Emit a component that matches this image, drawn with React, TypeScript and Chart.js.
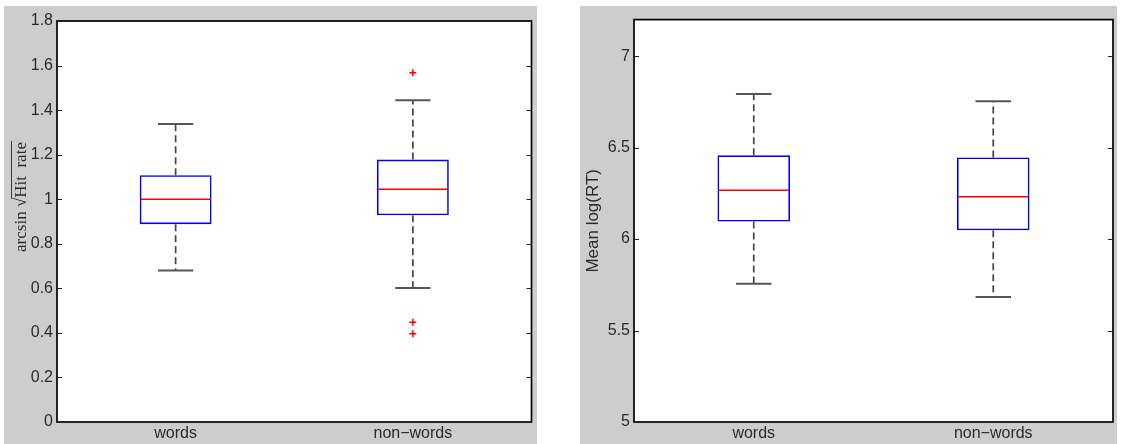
import React, { useEffect, useRef } from "react";
import { Chart, registerables } from "chart.js";
Chart.register(...registerables);

// ---------- data ----------
const categories = ["words", "non\u2212words"];

// left panel: arcsin sqrt(Hit rate)
const hitQ1 = [0.888, 0.928];
const hitMedian = [1.0, 1.045];
const hitQ3 = [1.108, 1.178];
const hitWhiskerLow = [0.68, 0.602];
const hitWhiskerHigh = [1.338, 1.444];
const hitOutlierCats = ["non\u2212words", "non\u2212words", "non\u2212words"];
const hitOutlierValues = [1.568, 0.448, 0.396];
const hitTicks = [0, 0.2, 0.4, 0.6, 0.8, 1, 1.2, 1.4, 1.6, 1.8];

// right panel: Mean log(RT)
const rtQ1 = [6.096, 6.048];
const rtMedian = [6.267, 6.232];
const rtQ3 = [6.458, 6.446];
const rtWhiskerLow = [5.756, 5.684];
const rtWhiskerHigh = [6.793, 6.754];
const rtTicks = [5, 5.5, 6, 6.5, 7];

const FONT = "'Liberation Sans', Arial, sans-serif";
const PANEL_BG = "#cdcdcd";
const TICK_COLOR = "#2a2a2a";

type BoxSpec = {
  q1: number[];
  med: number[];
  q3: number[];
  lo: number[];
  hi: number[];
  outCats: string[];
  outVals: number[];
  yMin: number;
  yMax: number;
  ticks: number[];
  width: number;
  height: number;
  padTop: number;
  yAxisWidth: number;
  yTitle?: string;
  drawSqrtLabel?: boolean;
};

const boxPlugin = {
  id: "boxExtras",
  beforeDatasetsDraw(chart: any) {
    const ctx = chart.ctx;
    const { left, right, top, bottom } = chart.chartArea;
    ctx.save();
    ctx.fillStyle = "#ffffff";
    ctx.fillRect(left, top, right - left, bottom - top);
    ctx.restore();
  },
  afterDatasetsDraw(chart: any, _args: any, opts: any) {
    const spec: BoxSpec = opts.spec;
    const ctx = chart.ctx;
    const y = chart.scales.y;
    const meta = chart.getDatasetMeta(0);
    ctx.save();
    meta.data.forEach((el: any, i: number) => {
      const x = el.x;
      const w = el.width;
      const half = w / 2;
      const cap = w * 0.245;
      // median
      ctx.strokeStyle = "#ff0000";
      ctx.lineWidth = 1.5;
      ctx.setLineDash([]);
      const ym = y.getPixelForValue(spec.med[i]);
      ctx.beginPath();
      ctx.moveTo(x - half + 1, ym);
      ctx.lineTo(x + half - 1, ym);
      ctx.stroke();
      // whiskers
      ctx.strokeStyle = "#444444";
      ctx.lineWidth = 1.7;
      ctx.setLineDash([7, 4]);
      ctx.beginPath();
      ctx.moveTo(x, y.getPixelForValue(spec.q3[i]));
      ctx.lineTo(x, y.getPixelForValue(spec.hi[i]));
      ctx.moveTo(x, y.getPixelForValue(spec.q1[i]));
      ctx.lineTo(x, y.getPixelForValue(spec.lo[i]));
      ctx.stroke();
      ctx.setLineDash([]);
      ctx.lineWidth = 2;
      ctx.strokeStyle = "#555555";
      const yh = y.getPixelForValue(spec.hi[i]);
      const yl = y.getPixelForValue(spec.lo[i]);
      ctx.beginPath();
      ctx.moveTo(x - cap, yh);
      ctx.lineTo(x + cap, yh);
      ctx.moveTo(x - cap, yl);
      ctx.lineTo(x + cap, yl);
      ctx.stroke();
    });
    ctx.restore();
  },
  afterDraw(chart: any, _args: any, opts: any) {
    const spec: BoxSpec = opts.spec;
    const ctx = chart.ctx;
    const { left, right, top, bottom } = chart.chartArea;
    const y = chart.scales.y;
    ctx.save();
    // frame
    ctx.strokeStyle = "#000000";
    ctx.lineWidth = 1.7;
    ctx.strokeRect(left, top, right - left, bottom - top);
    // inner ticks on both sides
    ctx.lineWidth = 1;
    ctx.strokeStyle = "#222222";
    y.ticks.forEach((t: any) => {
      const py = Math.round(y.getPixelForValue(t.value)) + 0.5;
      ctx.beginPath();
      ctx.moveTo(left, py);
      ctx.lineTo(left + 5, py);
      ctx.moveTo(right, py);
      ctx.lineTo(right - 5, py);
      ctx.stroke();
    });
    // left-panel label with square-root sign
    if (spec.drawSqrtLabel) {
      const cy = 191;
      ctx.translate(22, cy);
      ctx.rotate(-Math.PI / 2);
      ctx.fillStyle = "#2a2a2a";
      ctx.strokeStyle = "#2a2a2a";
      ctx.font = "17px 'Liberation Serif', 'DejaVu Serif', serif";
      ctx.textBaseline = "alphabetic";
      const p1 = "arcsin ";
      const p2 = "\u221A";
      const p3 = "Hit  rate";
      const w1 = ctx.measureText(p1).width;
      const w2 = ctx.measureText(p2).width;
      const w3 = ctx.measureText(p3).width;
      const total = w1 + w2 + w3;
      const x0 = -total / 2;
      ctx.fillText(p1, x0, 0);
      ctx.fillText(p2, x0 + w1, 0);
      ctx.fillText(p3, x0 + w1 + w2, 0);
      ctx.lineWidth = 0.9;
      ctx.beginPath();
      ctx.moveTo(x0 + w1 + w2 - 1, -14.5);
      ctx.lineTo(x0 + total + 1, -14.5);
      ctx.stroke();
    }
    ctx.restore();
  },
};

function BoxChart({ spec }: { spec: BoxSpec }) {
  const ref = useRef<HTMLCanvasElement | null>(null);
  useEffect(() => {
    const canvas = ref.current!;
    const chart = new Chart(canvas, {
      type: "bar",
      data: {
        labels: categories,
        datasets: [
          {
            type: "bar",
            data: categories.map((_, i) => [spec.q1[i], spec.q3[i]]) as any,
            borderColor: "#0000ff",
            borderWidth: 1.6,
            backgroundColor: "rgba(0,0,0,0)",
            borderSkipped: false,
            barPercentage: 0.303,
            categoryPercentage: 1,
          } as any,
          {
            type: "line",
            data: spec.outCats.map((c, i) => ({ x: c, y: spec.outVals[i] })) as any,
            showLine: false,
            pointStyle: "cross",
            pointRadius: 3.5,
            pointBorderWidth: 1.5,
            pointBorderColor: "#ff0000",
            pointBackgroundColor: "#ff0000",
            borderColor: "#ff0000",
          } as any,
        ],
      },
      options: {
        responsive: false,
        animation: false,
        events: [],
        layout: { padding: { left: 0, right: 4, top: spec.padTop, bottom: 0 } },
        plugins: {
          legend: { display: false },
          tooltip: { enabled: false },
          boxExtras: { spec },
        } as any,
        scales: {
          x: {
            type: "category",
            offset: true,
            grid: { display: false, drawTicks: false },
            border: { display: false },
            ticks: {
              color: TICK_COLOR,
              font: { family: FONT, size: 16 },
              padding: 2,
              maxRotation: 0,
            },
            afterFit: (s: any) => {
              s.height = 22;
            },
          },
          y: {
            type: "linear",
            min: spec.yMin,
            max: spec.yMax,
            grid: { display: false, drawTicks: false },
            border: { display: false },
            afterBuildTicks: (s: any) => {
              s.ticks = spec.ticks.map((v) => ({ value: v }));
            },
            ticks: {
              color: TICK_COLOR,
              font: { family: FONT, size: 16 },
              padding: 4,
              callback: (v: any) => String(Number(Number(v).toFixed(2))),
            },
            title: spec.yTitle
              ? {
                  display: true,
                  text: spec.yTitle,
                  color: TICK_COLOR,
                  font: { family: FONT, size: 17 },
                  padding: { top: 3, bottom: 0 },
                }
              : { display: false },
            afterFit: (s: any) => {
              s.width = spec.yAxisWidth;
            },
          },
        },
      } as any,
      plugins: [boxPlugin as any],
    });
    return () => chart.destroy();
  }, [spec]);
  return (
    <canvas
      ref={ref}
      width={spec.width}
      height={spec.height}
      style={{ display: "block", width: spec.width, height: spec.height, background: PANEL_BG }}
    />
  );
}

const leftSpec: BoxSpec = {
  q1: hitQ1,
  med: hitMedian,
  q3: hitQ3,
  lo: hitWhiskerLow,
  hi: hitWhiskerHigh,
  outCats: hitOutlierCats,
  outVals: hitOutlierValues,
  yMin: 0,
  yMax: 1.8,
  ticks: hitTicks,
  width: 533,
  height: 438,
  padTop: 15,
  yAxisWidth: 53,
  drawSqrtLabel: true,
};

const rightSpec: BoxSpec = {
  q1: rtQ1,
  med: rtMedian,
  q3: rtQ3,
  lo: rtWhiskerLow,
  hi: rtWhiskerHigh,
  outCats: [],
  outVals: [],
  yMin: 5,
  yMax: 7.2,
  ticks: rtTicks,
  width: 537,
  height: 438,
  padTop: 6,
  yAxisWidth: 54,
  yTitle: "Mean log(RT)",
};

export default function App() {
  return (
    <div
      style={{
        position: "fixed",
        left: 0,
        top: 0,
        width: 1126,
        height: 444,
        background: "#ffffff",
        overflow: "hidden",
      }}
    >
      <div style={{ position: "absolute", left: 4, top: 6 }}>
        <BoxChart spec={leftSpec} />
      </div>
      <div style={{ position: "absolute", left: 580, top: 6 }}>
        <BoxChart spec={rightSpec} />
      </div>
    </div>
  );
}
